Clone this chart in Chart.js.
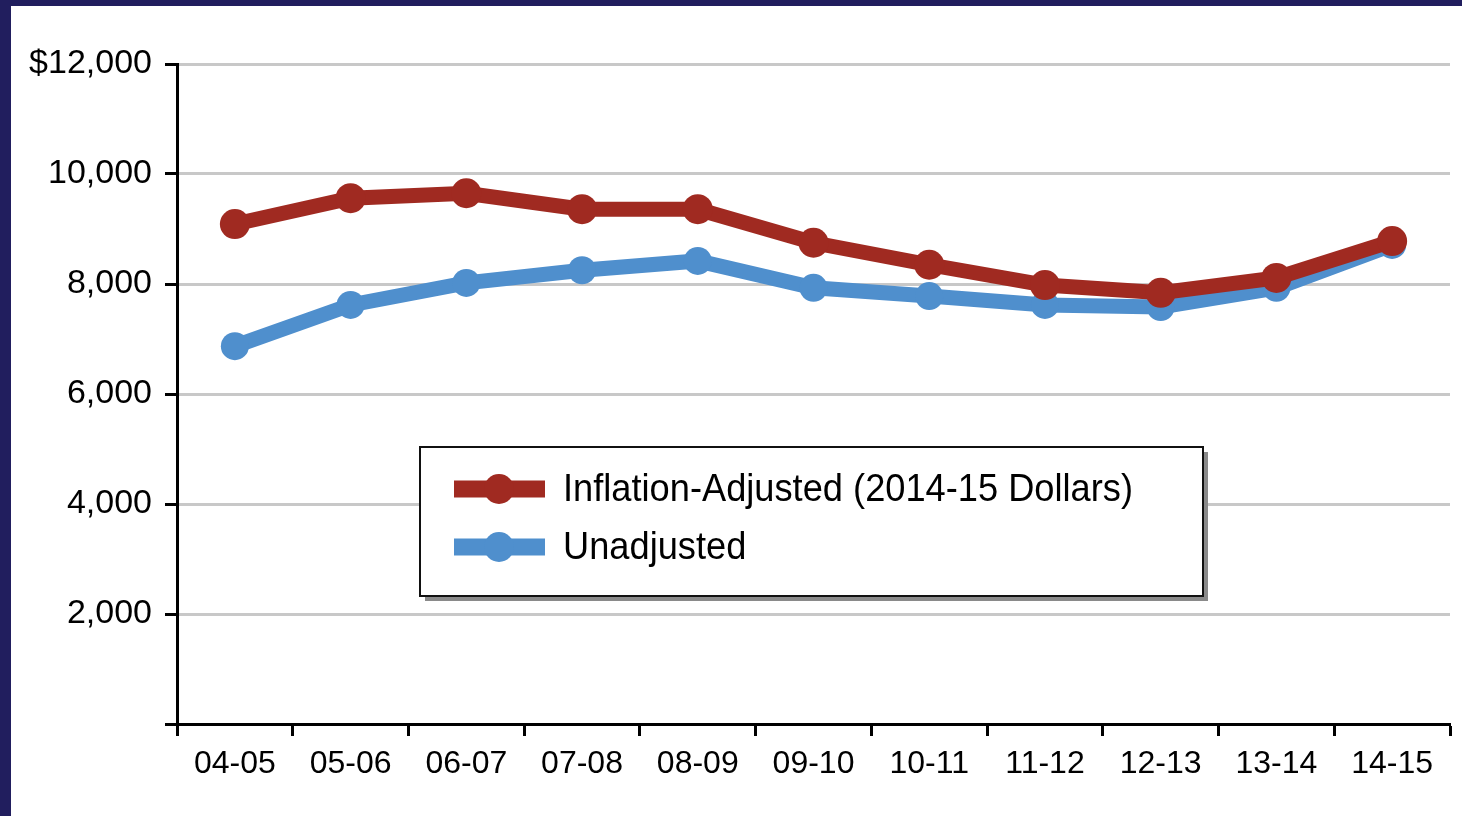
<!DOCTYPE html>
<html>
<head>
<meta charset="utf-8">
<script src="https://cdn.jsdelivr.net/npm/chart.js@4/dist/chart.umd.min.js"></script>
<style>
  html, body { margin: 0; padding: 0; background: #211e5e; width: 1462px; height: 816px; overflow: hidden; }
  #wrap { position: absolute; left: 11px; top: 6px; width: 1451px; height: 810px; background: #fff; }
</style>
</head>
<body>
<div id="wrap"><canvas id="chart" width="1451" height="810"></canvas></div>
<script>
const years = ['04-05', '05-06', '06-07', '07-08', '08-09', '09-10', '10-11', '11-12', '12-13', '13-14', '14-15'];
const adjusted = [9090, 9560, 9650, 9360, 9360, 8750, 8350, 7980, 7840, 8110, 8780];
const unadjusted = [6870, 7620, 8020, 8250, 8420, 7930, 7780, 7620, 7580, 7930, 8710];
const yTicks = [0, 2000, 4000, 6000, 8000, 10000, 12000];
const yTickLabels = ['', '2,000', '4,000', '6,000', '8,000', '10,000', '$12,000'];

const red = '#a02a21';
const blue = '#4f8fcd';

// legend drawn as a framed box inside the plot, like the original
const boxLegend = {
  id: 'boxLegend',
  afterDraw(chart) {
    const ctx = chart.ctx;
    const x = 409, y = 441, w = 783, h = 149;
    ctx.save();
    ctx.fillStyle = '#8a8a8a';
    ctx.fillRect(x + 5, y + 5, w, h);
    ctx.fillStyle = '#fff';
    ctx.fillRect(x, y, w, h);
    ctx.strokeStyle = '#111';
    ctx.lineWidth = 2;
    ctx.strokeRect(x, y, w, h);
    ctx.font = '39px "Liberation Sans Narrow", "Liberation Sans", Arial, sans-serif';
    // the original uses a condensed face: squeeze the longest label to its width
    const longest = Math.max(...chart.data.datasets.map(d => ctx.measureText(d.label).width));
    const sx = Math.min(1, 570 / longest);
    chart.data.datasets.forEach((ds, i) => {
      const cy = y + 42 + i * 58;
      ctx.strokeStyle = ds.borderColor;
      ctx.lineWidth = 17;
      ctx.beginPath();
      ctx.moveTo(x + 34, cy);
      ctx.lineTo(x + 125, cy);
      ctx.stroke();
      ctx.fillStyle = ds.borderColor;
      ctx.beginPath();
      ctx.arc(x + 79, cy, 15, 0, Math.PI * 2);
      ctx.fill();
      ctx.save();
      ctx.translate(x + 143, cy + 1);
      ctx.scale(sx, 1);
      ctx.fillStyle = '#000';
      ctx.textBaseline = 'middle';
      ctx.fillText(ds.label, 0, 0);
      ctx.restore();
    });
    ctx.restore();
  }
};

new Chart(document.getElementById('chart'), {
  type: 'line',
  data: {
    labels: years,
    datasets: [
      {
        label: 'Inflation-Adjusted (2014-15 Dollars)',
        data: adjusted,
        borderColor: red,
        backgroundColor: red,
        borderWidth: 15,
        pointRadius: 15,
        pointBorderWidth: 0,
        pointBackgroundColor: red,
        tension: 0
      },
      {
        label: 'Unadjusted',
        data: unadjusted,
        borderColor: blue,
        backgroundColor: blue,
        borderWidth: 15,
        pointRadius: 14,
        pointBorderWidth: 0,
        pointBackgroundColor: blue,
        tension: 0
      }
    ]
  },
  options: {
    responsive: false,
    animation: false,
    layout: {
      autoPadding: false,
      padding: { top: 58, right: 12, bottom: 0, left: 0 }
    },
    plugins: {
      legend: { display: false },
      tooltip: { enabled: false }
    },
    scales: {
      y: {
        min: 0,
        max: 12000,
        afterFit: s => { s.width = 166; },
        afterBuildTicks: s => { s.ticks = yTicks.map(v => ({ value: v })); },
        border: { color: '#000', width: 3 },
        grid: {
          color: c => c.tick && c.tick.value === 0 ? 'rgba(0,0,0,0)' : '#c8c8c8',
          lineWidth: 3,
          tickColor: '#000',
          tickLength: 12,
          tickWidth: 3
        },
        ticks: {
          padding: 13,
          color: '#000',
          font: { family: '"Liberation Sans", Arial, sans-serif', size: 34 },
          callback: (v, i) => yTickLabels[yTicks.indexOf(v)]
        }
      },
      x: {
        offset: true,
        afterFit: s => { s.height = 92; },
        border: { color: '#000', width: 3 },
        grid: {
          offset: true,
          drawOnChartArea: false,
          tickColor: '#000',
          tickLength: 12,
          tickWidth: 3
        },
        ticks: {
          padding: 9,
          color: '#000',
          maxRotation: 0,
          autoSkip: false,
          font: { family: '"Liberation Sans", Arial, sans-serif', size: 32 }
        }
      }
    }
  },
  plugins: [boxLegend]
});
</script>
</body>
</html>
